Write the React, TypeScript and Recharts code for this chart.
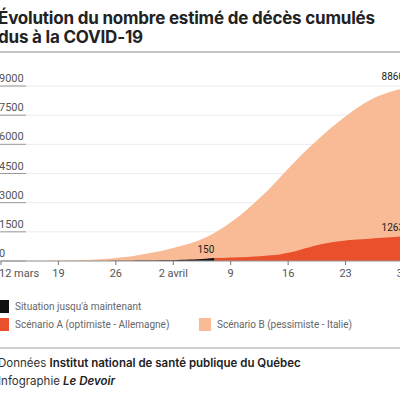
import React from 'react';
import { AreaChart, Area, XAxis, YAxis, CartesianGrid } from 'recharts';

const dayIndex = Array.from({ length: 50 }, (_, i) => i);
const tickDays = [0, 7, 14, 21, 28, 35, 42, 49];
const tickLabels = ['12 mars', '19', '26', '2 avril', '9', '16', '23', '30'];
const yTicks = [0, 1500, 3000, 4500, 6000, 7500, 9000];

const situation: (number | null)[] = [
  0, 0, 0, 0, 0, 0, 0, 0, 1, 1, 1, 4, 4, 6, 8, 18, 18, 22, 22, 31, 33, 36, 61, 75, 94, 121, 150,
  null, null, null, null, null, null, null, null, null, null, null, null, null, null, null, null, null, null, null, null, null, null, null,
];
const scenarioA: (number | null)[] = [
  null, null, null, null, null, null, null, null, null, null, null, null, null, null, null, null, null, null, null, null, null, null, null, null, null, null,
  150, 160, 175, 190, 210, 235, 260, 290, 340, 420, 520, 640, 760, 860, 940, 1000, 1050, 1090, 1120, 1150, 1180, 1210, 1240, 1263,
];
const scenarioB: number[] = [
  0, 0, 0, 5, 8, 12, 16, 22, 30, 40, 55, 70, 90, 120, 160, 200, 250, 320, 400, 480, 570, 670, 780, 900, 1040, 1220,
  1440, 1700, 1990, 2300, 2650, 3030, 3420, 3840, 4300, 4750, 5180, 5600, 6000, 6390, 6760, 7110, 7440, 7750, 8030, 8280, 8480, 8640, 8770, 8860,
];

const COLORS = { situation: '#111111', a: '#e9502b', b: '#f9bb96' };

const data = dayIndex.map((i) => ({
  i,
  situation: situation[i],
  a: scenarioA[i],
  b: scenarioB[i],
}));

const FONT = 'Roboto, "Noto Sans", sans-serif';

const YTick = (props: any) => {
  const { y, payload } = props;
  return (
    <g>
      <line x1={0} x2={26} y1={y} y2={y} stroke="#9a9a9a" strokeWidth={1} />
      <text x={-1} y={y - 4} fontSize={11} fill="#555" fontFamily={FONT} textAnchor="start">
        {payload.value}
      </text>
    </g>
  );
};

const XTick = (props: any) => {
  const { x, y, payload, index } = props;
  const label = tickLabels[tickDays.indexOf(payload.value)];
  return (
    <text
      x={index === 0 ? x - 2 : x}
      y={y + 9}
      fontSize={11}
      fill="#555"
      fontFamily={FONT}
      textAnchor={index === 0 ? 'start' : 'middle'}
    >
      {label}
    </text>
  );
};

const endLabel = (values: (number | null)[], lastIdx: number, dy: number, dx: number) => (props: any) => {
  const { x, y, index } = props;
  if (index !== lastIdx || x == null || y == null) return null;
  return (
    <text x={x + dx} y={y - dy} fontSize={10} fill="#222" fontFamily={FONT} textAnchor="end">
      {values[lastIdx]}
    </text>
  );
};

const LegendItem = ({ color, label, left, top }: { color: string; label: string; left: number; top: number }) => (
  <div style={{ position: 'absolute', left, top, display: 'flex', alignItems: 'center' }}>
    <div style={{ width: 12, height: 13, background: color, marginRight: 6 }} />
    <span style={{ fontSize: 10, color: '#666', fontFamily: FONT }}>{label}</span>
  </div>
);

export default function App() {
  return (
    <div
      style={{
        position: 'absolute',
        left: 0,
        top: 0,
        width: 400,
        height: 400,
        overflow: 'hidden',
        background: '#fff',
        fontFamily: 'Inter, sans-serif',
      }}
    >
      <div
        style={{
          position: 'absolute',
          left: -2,
          top: 9,
          fontSize: 17,
          lineHeight: '19px',
          fontWeight: 700,
          color: '#222',
          whiteSpace: 'nowrap',
          letterSpacing: -0.2,
        }}
      >
        <div>Évolution du nombre estimé de décès cumulés</div>
        <div>dus à la COVID-19</div>
      </div>
      <div style={{ position: 'absolute', left: 0, top: 51, width: 400, height: 2, background: '#c4c4c4' }} />

      <div style={{ position: 'absolute', left: 0, top: 56 }}>
        <AreaChart width={420} height={230} data={data} margin={{ top: 30, right: 17, bottom: 0, left: 0 }}>
          <CartesianGrid vertical={false} stroke="#ececec" />
          <XAxis
            dataKey="i"
            type="number"
            domain={[0, 49]}
            ticks={tickDays}
            tick={<XTick />}
            tickSize={4}
            tickMargin={3}
            height={25}
            axisLine={{ stroke: '#999' }}
            tickLine={{ stroke: '#777' }}
            interval={0}
          />
          <YAxis
            width={1}
            type="number"
            domain={[0, 9000]}
            ticks={yTicks}
            tick={YTick}
            axisLine={false}
            tickLine={false}
            interval={0}
          />
          <Area
            type="monotone"
            dataKey="b"
            stroke="none"
            fill={COLORS.b}
            fillOpacity={1}
            isAnimationActive={false}
            label={endLabel(scenarioB, 49, 9, 1)}
          />
          <Area
            type="monotone"
            dataKey="a"
            stroke="none"
            fill={COLORS.a}
            fillOpacity={1}
            isAnimationActive={false}
            label={endLabel(scenarioA, 49, 5, 1)}
          />
          <Area
            type="monotone"
            dataKey="situation"
            stroke="none"
            fill={COLORS.situation}
            fillOpacity={1}
            isAnimationActive={false}
            label={endLabel(situation, 26, 5, 0)}
          />
        </AreaChart>
      </div>

      <LegendItem color={COLORS.situation} label="Situation jusqu'à maintenant" left={-3} top={300} />
      <LegendItem color={COLORS.a} label="Scénario A (optimiste - Allemagne)" left={-3} top={318} />
      <LegendItem color={COLORS.b} label="Scénario B (pessimiste - Italie)" left={199} top={318} />

      <div style={{ position: 'absolute', left: 0, top: 347, width: 400, height: 2, background: '#cfcfcf' }} />
      <div
        style={{
          position: 'absolute',
          left: -2,
          top: 354,
          fontSize: 11.5,
          lineHeight: '18px',
          color: '#333',
          whiteSpace: 'nowrap',
        }}
      >
        <div>
          <span style={{ fontWeight: 400 }}>Données </span>
          <span style={{ fontWeight: 600, color: '#222' }}>Institut national de santé publique du Québec</span>
        </div>
        <div>
          <span>Infographie </span>
          <span style={{ fontWeight: 600, fontStyle: 'italic', color: '#222' }}>Le Devoir</span>
        </div>
      </div>
    </div>
  );
}
